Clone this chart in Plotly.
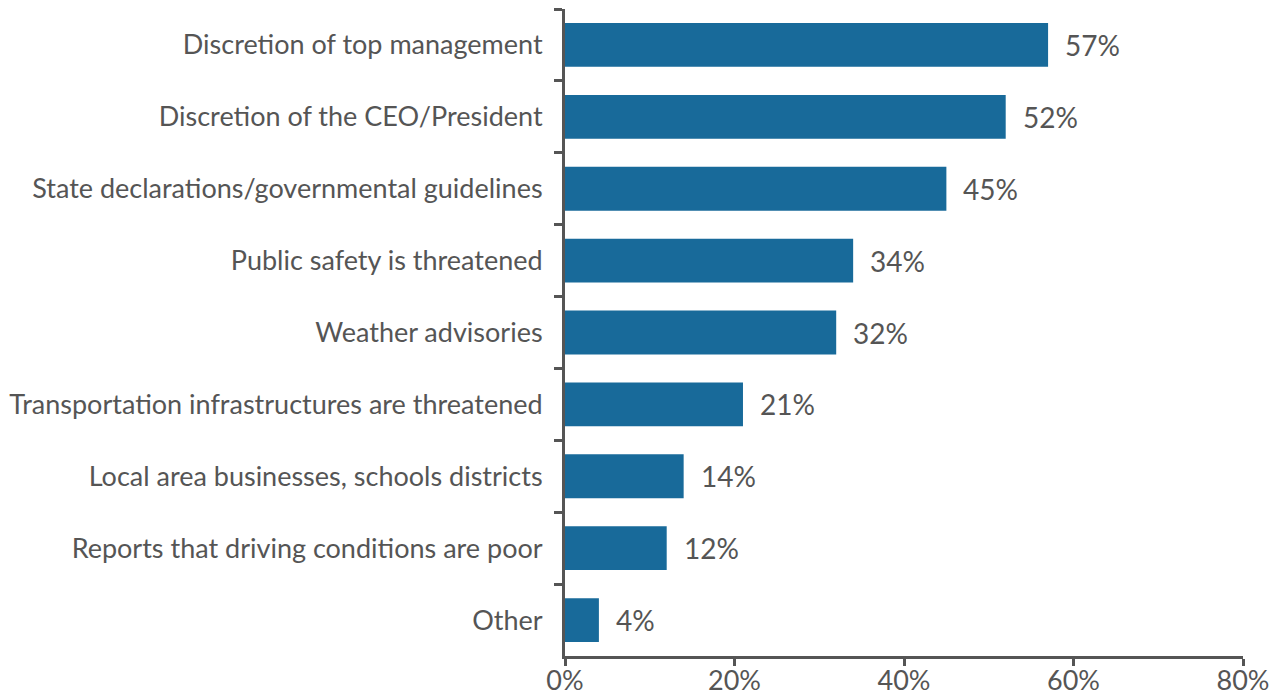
import plotly.graph_objects as go

categories = [
    "Discretion of top management",
    "Discretion of the CEO/President",
    "State declarations/governmental guidelines",
    "Public safety is threatened",
    "Weather advisories",
    "Transportation infrastructures are threatened",
    "Local area businesses, schools districts",
    "Reports that driving conditions are poor",
    "Other",
]
values = [57, 52, 45, 34, 32, 21, 14, 12, 4]
x_ticks = [0, 20, 40, 60, 80]
x_tick_labels = ["0%", "20%", "40%", "60%", "80%"]

bar_color = "#186a9a"
axis_color = "#555555"
text_color = "#555555"
font_family = "Lato"

fig = go.Figure(
    go.Bar(
        x=values,
        y=categories,
        orientation="h",
        marker=dict(color=bar_color, line=dict(width=0)),
        hoverinfo="skip",
    )
)

# value labels placed just to the right of each bar end
for cat, v in zip(categories, values):
    fig.add_annotation(
        x=v, y=cat, text=f"{v}%", showarrow=False,
        xanchor="left", yanchor="middle", xshift=15,
        font=dict(family=font_family, size=28, color=text_color),
    )

fig.update_layout(
    width=1286, height=700,
    margin=dict(l=565, r=43, t=9, b=44),
    paper_bgcolor="white", plot_bgcolor="white",
    bargap=0.39,
    showlegend=False,
    font=dict(family=font_family, size=27, color=text_color),
)
fig.update_xaxes(
    range=[0, 80], tickvals=x_ticks, ticktext=x_tick_labels,
    automargin=False,
    showgrid=False, zeroline=False,
    showline=True, linecolor=axis_color, linewidth=3,
    ticks="outside", ticklen=7, tickwidth=3, tickcolor=axis_color,
    ticklabelstandoff=-8,
    tickfont=dict(family=font_family, size=27, color=text_color),
)
fig.update_yaxes(
    autorange="reversed",
    automargin=False,
    showgrid=False, zeroline=False,
    showline=True, linecolor=axis_color, linewidth=3,
    ticks="outside", tickson="boundaries", ticklen=8, tickwidth=3, tickcolor=axis_color,
    ticklabelstandoff=14,
    tickfont=dict(family=font_family, size=27, color=text_color),
)

fig.write_html("out.html")
